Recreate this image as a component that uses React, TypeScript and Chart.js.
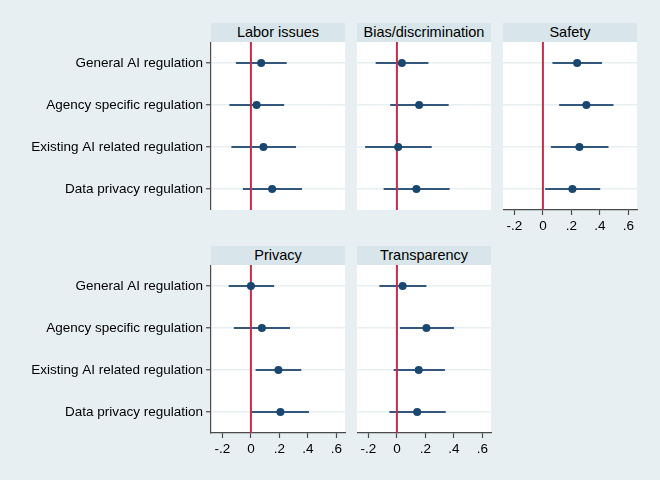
import { useEffect, useRef } from 'react';
import { Chart, registerables } from 'chart.js';

Chart.register(...registerables);

const categories = [
  'General AI regulation',
  'Agency specific regulation',
  'Existing AI related regulation',
  'Data privacy regulation',
];
const xTicks = [-0.2, 0, 0.2, 0.4, 0.6];
const xTickLabels = ['-.2', '0', '.2', '.4', '.6'];

// point estimates and 95% intervals, one entry per category
const laborEst = [0.072, 0.04, 0.088, 0.149];
const laborLo = [-0.105, -0.151, -0.137, -0.056];
const laborHi = [0.251, 0.233, 0.316, 0.358];

const biasEst = [0.035, 0.156, 0.009, 0.137];
const biasLo = [-0.149, -0.047, -0.223, -0.093];
const biasHi = [0.221, 0.363, 0.244, 0.37];

const safetyEst = [0.24, 0.305, 0.256, 0.207];
const safetyLo = [0.067, 0.114, 0.056, 0.016];
const safetyHi = [0.414, 0.495, 0.46, 0.402];

const privacyEst = [0.0, 0.077, 0.193, 0.207];
const privacyLo = [-0.156, -0.12, 0.033, 0.007];
const privacyHi = [0.163, 0.274, 0.353, 0.407];

const transEst = [0.04, 0.207, 0.153, 0.142];
const transLo = [-0.123, 0.021, -0.023, -0.053];
const transHi = [0.207, 0.4, 0.337, 0.342];

const FONT = '"Liberation Sans", Arial, sans-serif';
const NAVY = '#1a476f';
const CI = '#33577d';
const RED = '#c82c4d';
const AXIS = '#4a4a4a';
const GRID = '#e7eff1';
const BG = '#e8eff2';
const STRIP = '#d8e5ea';

const PLOT_W = 134;
const PLOT_H = 168;
const Y_W = 211;
const X_H = 30;
const PAD_R = 6;

const plotBg = {
  id: 'plotBg',
  beforeDraw(chart: Chart) {
    const { ctx, chartArea: a } = chart;
    ctx.save();
    ctx.fillStyle = '#ffffff';
    ctx.fillRect(a.left, a.top, a.right - a.left, a.bottom - a.top);
    ctx.restore();
  },
};

type PanelProps = {
  title: string;
  est: number[];
  lo: number[];
  hi: number[];
  left: number;
  top: number;
  showY: boolean;
  showX: boolean;
};

function Panel({ title, est, lo, hi, left, top, showY, showX }: PanelProps) {
  const canvasRef = useRef<HTMLCanvasElement>(null);
  const chartRef = useRef<Chart | null>(null);

  const yW = showY ? Y_W : 0;
  const xH = showX ? X_H : 0;
  const cw = yW + PLOT_W + PAD_R;
  const ch = PLOT_H + xH;

  useEffect(() => {
    if (!canvasRef.current) return;
    if (chartRef.current) chartRef.current.destroy();

    const ciSets = categories.map((_, i) => ({
      data: [
        { x: lo[i], y: i + 1 },
        { x: hi[i], y: i + 1 },
      ],
      showLine: true,
      borderColor: CI,
      borderWidth: 2,
      pointRadius: 0,
    }));

    chartRef.current = new Chart(canvasRef.current, {
      type: 'scatter',
      data: {
        datasets: [
          {
            data: est.map((v, i) => ({ x: v, y: i + 1 })),
            backgroundColor: NAVY,
            borderWidth: 0,
            pointRadius: 4,
          },
          {
            data: [
              { x: 0, y: 0.5 },
              { x: 0, y: 4.5 },
            ],
            showLine: true,
            borderColor: RED,
            borderWidth: 2,
            pointRadius: 0,
          },
          ...ciSets,
        ],
      },
      options: {
        animation: false,
        responsive: false,
        events: [],
        layout: { autoPadding: false, padding: { left: 0, right: PAD_R, top: 0, bottom: 0 } },
        plugins: {
          legend: { display: false },
          tooltip: { enabled: false },
        },
        scales: {
          x: {
            type: 'linear',
            min: -0.28,
            max: 0.66,
            display: showX,
            afterBuildTicks: (s: any) => {
              s.ticks = xTicks.map((v) => ({ value: v }));
            },
            afterFit: (s: any) => {
              s.height = xH;
              s.paddingLeft = 0;
              s.paddingRight = 0;
            },
            grid: {
              drawOnChartArea: false,
              drawTicks: true,
              tickLength: 5,
              tickColor: AXIS,
              tickWidth: 1.2,
            },
            border: { color: AXIS, width: 1.2 },
            ticks: {
              autoSkip: false,
              maxRotation: 0,
              padding: 3,
              color: '#000',
              font: { family: FONT, size: 13.5 },
              callback: (v: any) => xTickLabels[xTicks.indexOf(Number(v))],
            },
          },
          y: {
            type: 'linear',
            min: 0.5,
            max: 4.5,
            reverse: true,
            afterBuildTicks: (s: any) => {
              s.ticks = categories.map((_, i) => ({ value: i + 1 }));
            },
            afterFit: (s: any) => {
              s.width = yW;
              s.paddingTop = 0;
              s.paddingBottom = 0;
            },
            grid: {
              color: GRID,
              lineWidth: 1.5,
              drawTicks: showY,
              tickLength: 5,
              tickColor: AXIS,
              tickWidth: 1.2,
            },
            border: { display: showY, color: AXIS, width: 1.2 },
            ticks: {
              display: showY,
              padding: 3,
              color: '#000',
              font: { family: FONT, size: 13.5 },
              callback: (v: any) => categories[Number(v) - 1],
            },
          },
        },
      },
      plugins: [plotBg],
    });

    return () => {
      if (chartRef.current) {
        chartRef.current.destroy();
        chartRef.current = null;
      }
    };
  }, []);

  return (
    <>
      <div
        style={{
          position: 'absolute',
          left,
          top: top - 19,
          width: PLOT_W,
          height: 19,
          lineHeight: '19px',
          background: STRIP,
          textAlign: 'center',
          fontFamily: FONT,
          fontSize: 14.5,
          color: '#000',
        }}
      >
        {title}
      </div>
      <canvas
        ref={canvasRef}
        width={cw}
        height={ch}
        style={{ position: 'absolute', left: left - yW, top, width: cw, height: ch }}
      />
    </>
  );
}

export default function App() {
  useEffect(() => {
    document.body.style.margin = '0';
  }, []);

  return (
    <div style={{ position: 'relative', width: 660, height: 480, background: BG, overflow: 'hidden' }}>
      <Panel title="Labor issues" est={laborEst} lo={laborLo} hi={laborHi} left={211} top={42} showY showX={false} />
      <Panel title="Bias/discrimination" est={biasEst} lo={biasLo} hi={biasHi} left={357} top={42} showY={false} showX={false} />
      <Panel title="Safety" est={safetyEst} lo={safetyLo} hi={safetyHi} left={503} top={42} showY={false} showX />
      <Panel title="Privacy" est={privacyEst} lo={privacyLo} hi={privacyHi} left={211} top={265} showY showX />
      <Panel title="Transparency" est={transEst} lo={transLo} hi={transHi} left={357} top={265} showY={false} showX />
    </div>
  );
}
